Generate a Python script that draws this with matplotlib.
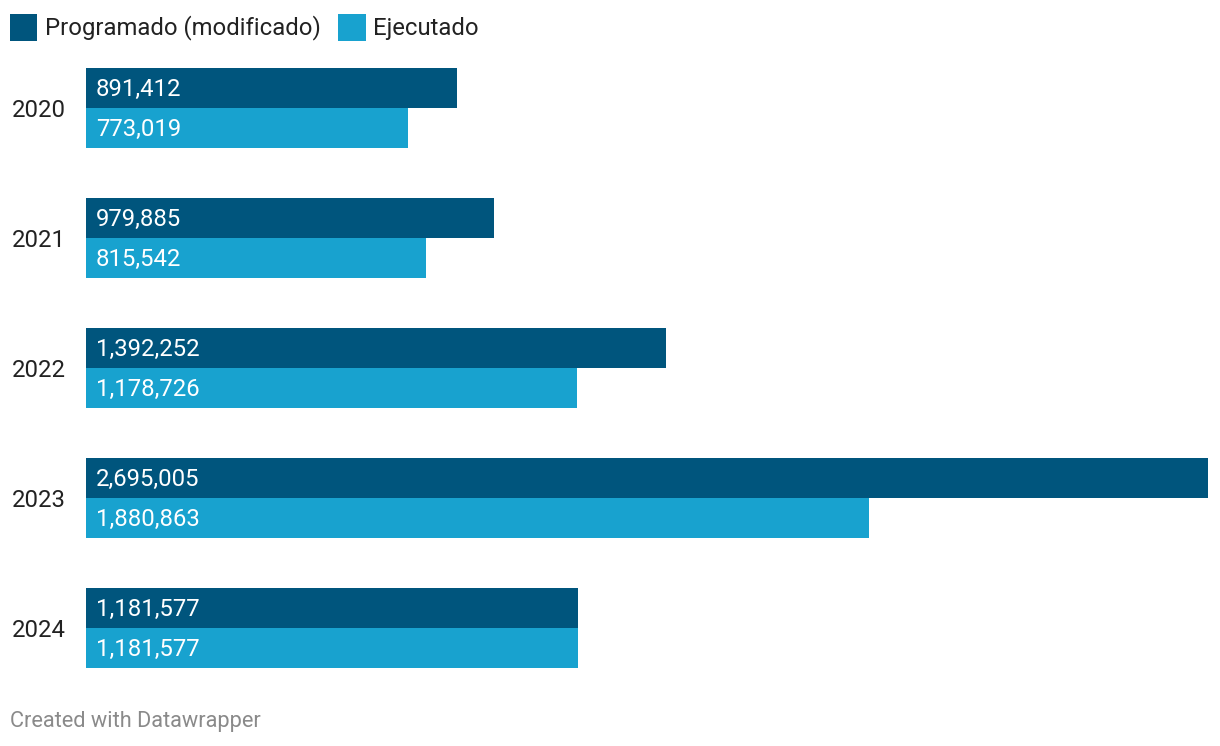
import matplotlib
matplotlib.use("Agg")
import matplotlib.pyplot as plt
import matplotlib.transforms as mtransforms
from matplotlib.patches import Rectangle
import numpy as np

years      = ["2020", "2021", "2022", "2023", "2024"]
programado = [891412, 979885, 1392252, 2695005, 1181577]
ejecutado  = [773019, 815542, 1178726, 1880863, 1181577]
series     = ["Programado (modificado)", "Ejecutado"]
colors     = ["#00557D", "#18A2CF"]

plt.rcParams['font.family'] = ['Roboto', 'DejaVu Sans']

W, H = 1220, 746
fig = plt.figure(figsize=(W / 100, H / 100), dpi=100)

# axes placed in pixels: bars from x=86 to 1208, y=68 to 668
ax = fig.add_axes([86 / W, 1 - 668 / H, (1208 - 86) / W, (668 - 68) / H])

bh = 40 / 130  # bar height in group units
y = np.arange(len(years))
ax.barh(y - bh / 2, programado, height=bh, color=colors[0], linewidth=0)
ax.barh(y + bh / 2, ejecutado,  height=bh, color=colors[1], linewidth=0)

ax.set_xlim(0, max(programado))
ax.set_ylim(len(years) - 1 + bh, -bh)

# value labels inside bars, nudged down ~1.5px
fs = 17.2
down = mtransforms.offset_copy(ax.transData, fig=fig, x=0, y=-1.5, units="dots")
xoff = max(programado) * 10 / 1122
for i in range(len(years)):
    ax.text(xoff, y[i] - bh / 2, f"{programado[i]:,}", color="white",
            fontsize=fs, va="center", ha="left", transform=down)
    ax.text(xoff, y[i] + bh / 2, f"{ejecutado[i]:,}", color="white",
            fontsize=fs, va="center", ha="left", transform=down)

ax.set_yticks(y)
ax.set_yticklabels(years, fontsize=fs, color="#222222")
ax.tick_params(axis="y", length=0, pad=14.4)
ax.set_xticks([])
for s in ax.spines.values():
    s.set_visible(False)

# legend
fig.add_artist(Rectangle((10, H - 41), 27, 27, transform=None,
                         color=colors[0], linewidth=0))
fig.text(45 / W, 1 - 28 / H, series[0], fontsize=fs, color="#222222",
         va="center", ha="left")
fig.add_artist(Rectangle((338, H - 41), 28, 27, transform=None,
                         color=colors[1], linewidth=0))
fig.text(373 / W, 1 - 28 / H, series[1], fontsize=fs, color="#222222",
         va="center", ha="left")

fig.text(10 / W, 1 - 721 / H, "Created with Datawrapper", fontsize=15.7,
         color="#8a8a8a", va="center", ha="left")

fig.savefig("out.png", dpi=100)
